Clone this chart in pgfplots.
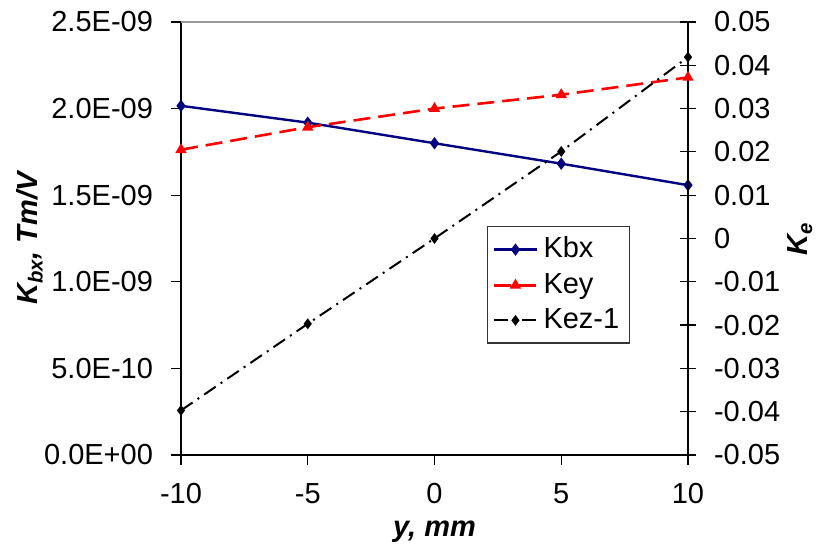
\documentclass[border=0pt]{standalone}
\usepackage{fontspec}
\setmainfont{Liberation Sans}
\usepackage{pgfplots}
\pgfplotsset{compat=1.18}

\definecolor{kbx}{RGB}{0,0,128}

\begin{document}
\fontsize{14.5}{17}\selectfont
\begin{tikzpicture}
\path[use as bounding box] (-90.5pt,-46pt) rectangle (324.5pt,227.5pt);
\pgfplotsset{
  every axis/.append style={
    scale only axis, width=253.5pt, height=216.5pt,
    at={(0pt,0pt)}, anchor=south west,
    xmin=-10, xmax=10,
    xtick={-10,-5,0,5,10}, xticklabels={-10,-5,0,5,10},
    font=\fontsize{14.5}{17}\selectfont,
    tick style={black, line width=0.6pt},
    axis line style={black, line width=0.6pt},
    scaled y ticks=false,
    ytick scale label code/.code={},
    clip=false,
  }
}

% left axis: Kbx
\begin{axis}[
  axis x line*=bottom, axis y line*=left,
  ymin=0, ymax=2.5e-9,
  ytick={0,0.5e-9,1e-9,1.5e-9,2e-9,2.5e-9},
  yticklabels={0.0E+00,5.0E-10,1.0E-09,1.5E-09,2.0E-09,2.5E-09},
  tick align=outside, major tick length=5pt,
  xticklabel style={yshift=-4pt},
  yticklabel style={xshift=-4pt},
  xlabel={\bfseries\itshape y, mm},
  ylabel={\bfseries\itshape K\textsubscript{bx}, Tm/V},
  xlabel style={at={(axis description cs:0.5,-0.178)}, anchor=center},
  ylabel style={at={(axis description cs:-0.298,0.5)}, anchor=center},
]
\draw[black!40, line width=0.6pt] (rel axis cs:0,1) -- (rel axis cs:1,1);
\addplot[kbx, line width=1.2pt, mark=diamond*, mark size=2.1pt] coordinates {
  (-10,2.016e-9) (-5,1.919e-9) (0,1.800e-9) (5,1.682e-9) (10,1.558e-9)
};
\end{axis}

% right axis: Key, Kez-1
\begin{axis}[
  axis x line=none, axis y line*=right,
  ymin=-0.05, ymax=0.05,
  ytick={-0.05,-0.04,-0.03,-0.02,-0.01,0,0.01,0.02,0.03,0.04,0.05},
  yticklabels={-0.05,-0.04,-0.03,-0.02,-0.01,0,0.01,0.02,0.03,0.04,0.05},
  tick align=center, major tick length=8pt,
  yticklabel style={xshift=4pt},
  ylabel={\bfseries\itshape K\textsubscript{e}},
  ylabel style={at={(axis description cs:1.221,0.5)}, anchor=center},
  legend style={at={(axis description cs:0.604,0.529)}, anchor=north west,
    draw=black!80, line width=0.6pt, fill=white,
    font=\fontsize{14.5}{17}\selectfont, inner sep=2.5pt,
    nodes={inner sep=2.7pt}},
  legend cell align=left,
  legend image code/.code={
    \draw[mark repeat=2, mark phase=2, #1]
      plot coordinates {(0cm,0cm) (0.375cm,0cm) (0.75cm,0cm)};},
]
\addlegendimage{kbx, line width=1.2pt, mark=diamond*, mark size=2.1pt}
\addlegendentry{Kbx}
\addplot[red, line width=1.3pt, dash pattern=on 8.5pt off 4pt,
  mark=triangle*, mark size=2pt, mark options={solid}] coordinates {
  (-10,0.0205) (-5,0.0257) (0,0.0300) (5,0.0332) (10,0.0372)
};
\addlegendentry{Key}
\addplot[black, line width=1.0pt, dash pattern=on 7pt off 3pt on 1pt off 3pt,
  mark=diamond*, mark size=1.9pt, mark options={solid}] coordinates {
  (-10,-0.0397) (-5,-0.0197) (0,0.0000) (5,0.0201) (10,0.0419)
};
\addlegendentry{Kez-1}
\end{axis}
\end{tikzpicture}
\end{document}
